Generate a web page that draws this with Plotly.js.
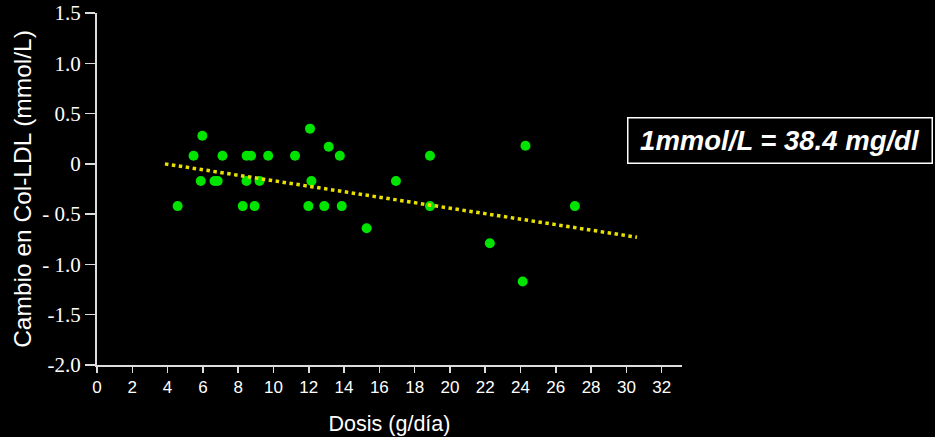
<!DOCTYPE html>
<html>
<head>
<meta charset="utf-8">
<script src="https://cdn.plot.ly/plotly-3.0.1.min.js"></script>
<style>html,body{margin:0;padding:0;background:#000;}#chart{width:935px;height:437px;}</style>
</head>
<body>
<div id="chart"></div>
<script>
// Dose (g/day) and change in LDL-cholesterol (mmol/L) for each study
const dosis = [4.57, 5.47, 5.97, 5.88, 6.66, 6.84, 7.11, 8.26, 8.47, 8.48, 8.73, 8.93, 9.21, 9.70,
               11.22, 11.98, 12.07, 12.15, 12.88, 13.13, 13.76, 13.87, 15.28, 16.94, 18.87, 18.87,
               22.26, 24.12, 24.28, 27.08];
const cambioLDL = [-0.42, 0.08, 0.28, -0.17, -0.17, -0.17, 0.08, -0.42, -0.17, 0.08, 0.08, -0.42, -0.17, 0.08,
                   0.08, -0.42, 0.35, -0.17, -0.42, 0.17, 0.08, -0.42, -0.64, -0.17, 0.08, -0.42,
                   -0.79, -1.17, 0.18, -0.42];
// Trend line end points
const tendX = [3.85, 30.6];
const tendY = [0.0, -0.73];
// Tick labels
const xTicks = [0, 2, 4, 6, 8, 10, 12, 14, 16, 18, 20, 22, 24, 26, 28, 30, 32];
const yTicks = [1.5, 1.0, 0.5, 0, -0.5, -1.0, -1.5, -2.0];
const yTickText = ['1.5', '1.0', '0.5', '0', '-\u00a00.5', '-\u00a01.0', '-1.5', '-2.0'];

const traces = [
  {
    x: dosis, y: cambioLDL, type: 'scatter', mode: 'markers',
    marker: {color: '#00e400', size: 10, line: {width: 0}},
    hoverinfo: 'x+y', showlegend: false
  },
  {
    x: tendX, y: tendY, type: 'scatter', mode: 'lines',
    line: {color: '#e8e000', width: 3.5, dash: '3.5px,3.5px'},
    hoverinfo: 'skip', showlegend: false
  }
];

const layout = {
  width: 935, height: 437,
  paper_bgcolor: '#000', plot_bgcolor: '#000',
  margin: {l: 97, r: 253, t: 13, b: 72},
  showlegend: false,
  font: {family: 'Liberation Serif', size: 21, color: '#ffffff'},
  xaxis: {
    range: [0, 33.15], tickvals: xTicks, ticktext: xTicks.map(String),
    showgrid: false, zeroline: false, showline: true, linecolor: '#dddddd', linewidth: 2,
    ticks: 'outside', ticklen: 6, tickwidth: 1.5, tickcolor: '#dddddd',
    tickfont: {family: 'Liberation Sans', size: 17, color: '#ffffff'},
    title: {text: 'Dosis (g/día)', standoff: 20,
            font: {family: 'Liberation Sans', size: 21.5, color: '#ffffff'}}
  },
  yaxis: {
    range: [-2.0, 1.5], tickvals: yTicks, ticktext: yTickText,
    showgrid: false, zeroline: false, showline: true, linecolor: '#dddddd', linewidth: 2,
    ticks: 'outside', ticklen: 10, tickwidth: 1.5, tickcolor: '#dddddd',
    tickfont: {family: 'Liberation Serif', size: 21, color: '#ffffff'},
    title: {text: 'Cambio en Col-LDL (mmol/L)', standoff: 4,
            font: {family: 'Liberation Sans', size: 24.5, color: '#ffffff'}}
  },
  annotations: [{
    xref: 'paper', yref: 'paper', x: 1.1675, y: 0.639, xanchor: 'center', yanchor: 'middle',
    text: '<b><i>1mmol/L = 38.4 mg/dl</i></b>', showarrow: false,
    width: 295, height: 36, align: 'center',
    font: {family: 'Liberation Sans', size: 27.5, color: '#ffffff'},
    bordercolor: '#ffffff', borderwidth: 1.5, borderpad: 4, bgcolor: '#000000'
  }]
};

Plotly.newPlot('chart', traces, layout, {displayModeBar: false, staticPlot: true});
</script>
</body>
</html>
